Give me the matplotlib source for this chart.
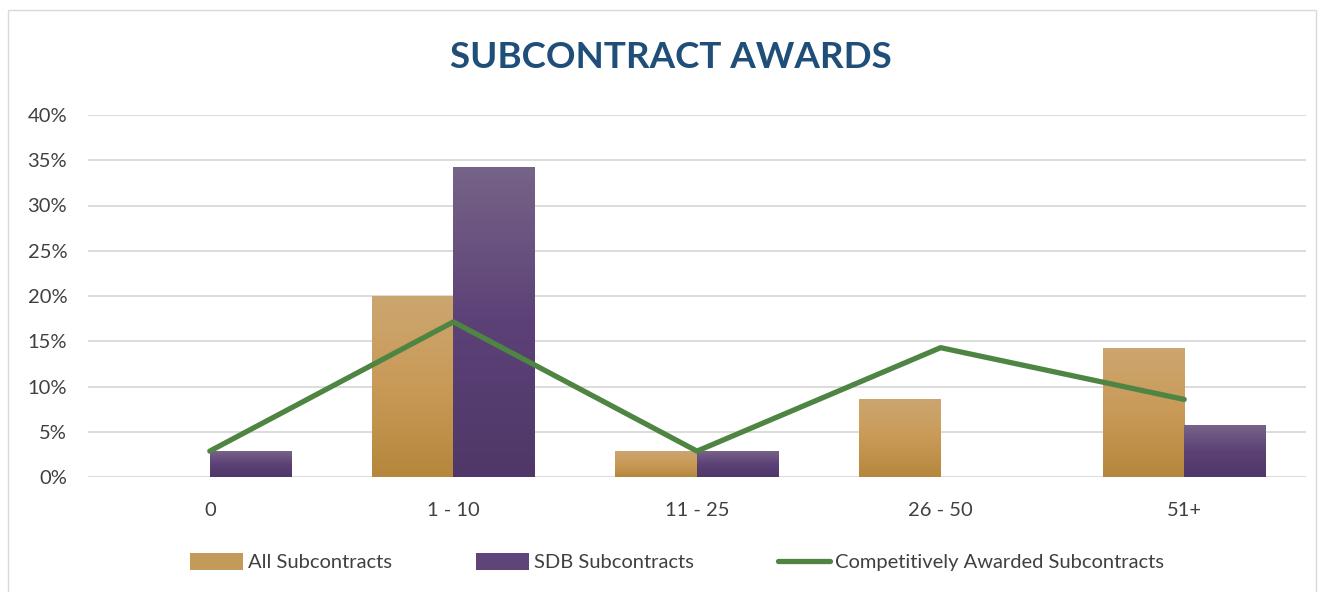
import numpy as np
import matplotlib
matplotlib.use("Agg")
import matplotlib.pyplot as plt
from matplotlib.colors import LinearSegmentedColormap
from matplotlib.lines import Line2D
from matplotlib.patches import Patch, Rectangle

categories = ["0", "1 - 10", "11 - 25", "26 - 50", "51+"]
all_sub = [0.0, 20.0, 2.86, 8.57, 14.29]
sdb_sub = [2.86, 34.29, 2.86, 0.0, 5.71]
competitive = [2.86, 17.14, 2.86, 14.29, 8.57]
yticks = [0, 5, 10, 15, 20, 25, 30, 35, 40]

plt.rcParams['font.family'] = ['Lato', 'DejaVu Sans']

fig = plt.figure(figsize=(13.23, 5.92), dpi=100)
# outer chart border
fig.patches.append(Rectangle((8 / 1323, -0.01), 1308 / 1323, 1 - 10 / 592 + 0.01,
                             transform=fig.transFigure, fill=False,
                             edgecolor='#D9D9D9', linewidth=1.0))

ax = fig.add_axes([88 / 1323, 1 - 477 / 592, (1306 - 88) / 1323, (477 - 115) / 592])
x = np.arange(len(categories))
w = 0.335

gold = LinearSegmentedColormap.from_list("gold", ["#B5873C", "#C99A57", "#CCA670"])
purple = LinearSegmentedColormap.from_list("purple", ["#4F3868", "#5C4177", "#776488"])
grad = np.linspace(0, 1, 256).reshape(-1, 1)


def gradient_bars(bars, cmap):
    for b in bars:
        h = b.get_height()
        if h <= 0:
            continue
        x0 = b.get_x()
        im = ax.imshow(grad, cmap=cmap, origin='lower', aspect='auto',
                       extent=[x0, x0 + b.get_width(), 0, h], zorder=2)
        im.set_clip_path(b)
        b.set_facecolor('none')


b1 = ax.bar(x - w / 2, all_sub, w, color='#C49A5A', zorder=2)
b2 = ax.bar(x + w / 2, sdb_sub, w, color='#5E4478', zorder=2)
gradient_bars(b1, gold)
gradient_bars(b2, purple)

ax.plot(x, competitive, color='#4E8542', linewidth=3.8, zorder=4,
        solid_capstyle='round', solid_joinstyle='round')

ax.set_xlim(-0.5, len(categories) - 0.5)
ax.set_ylim(0, 40)
ax.set_yticks(yticks)
ax.set_yticklabels([f"{t}%" for t in yticks])
ax.set_xticks(x)
ax.set_xticklabels(categories)
ax.tick_params(axis='both', length=0, labelsize=14.5, labelcolor='#404040')
ax.tick_params(axis='x', pad=18)
ax.tick_params(axis='y', pad=15)
ax.grid(axis='y', color='#D9D9D9', linewidth=1.3, zorder=0)
ax.set_axisbelow(True)
for s in ax.spines.values():
    s.set_visible(False)

fig.text(0.507, 1 - 58 / 592, "SUBCONTRACT AWARDS", ha='center', va='center',
         fontsize=26.5, fontweight='bold', color='#1F4E79')

handles = [Patch(facecolor='#C49A5A', edgecolor='none'),
           Patch(facecolor='#5E4478', edgecolor='none'),
           Line2D([0], [0], color='#4E8542', linewidth=3.8, solid_capstyle='round')]
labels = ["All Subcontracts", "SDB Subcontracts", "Competitively Awarded Subcontracts"]
fig.legend(handles, labels, loc='center', bbox_to_anchor=(0.512, 1 - 562 / 592), ncol=3,
           frameon=False, fontsize=14.5, labelcolor='#404040', handlelength=2.6,
           handleheight=0.9, handletextpad=0.25, columnspacing=4.2)

fig.savefig("out.png", dpi=100, facecolor='white')
